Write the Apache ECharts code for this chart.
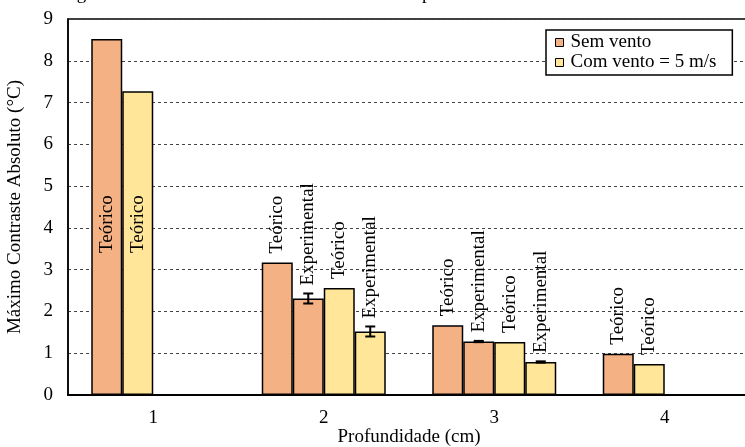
<!DOCTYPE html>
<html>
<head>
<meta charset="utf-8">
<script src="https://cdn.jsdelivr.net/npm/echarts@6/dist/echarts.min.js"></script>
<style>
  html, body { margin: 0; padding: 0; background: #fff; }
  #chart { width: 745px; height: 447px; }
</style>
</head>
<body>
<div id="chart"></div>
<script>
// Depth categories (cm)
const categories = ['1', '2', '3', '4'];

// Maximum absolute contrast (°C)
const semVentoTeorico = [8.52, 3.17, 1.67, 0.99];
const semVentoExperimental = [null, 2.31, 1.28, null];
const comVentoTeorico = [7.27, 2.56, 1.27, 0.74];
const comVentoExperimental = [null, 1.52, 0.79, null];

// Experimental uncertainty (± °C)
const erroSemVento = [null, 0.12, 0.015, null];
const erroComVento = [null, 0.12, 0.015, null];

const legendNames = ['Sem vento', 'Com vento = 5 m/s'];
const barLabels = ['Teórico', 'Experimental'];
const captionText = 'Figura 5.5 - Contraste máximo absoluto versus profundidade';

const ORANGE = '#F4B183';
const YELLOW = '#FFE699';
const FONT = '"Liberation Serif", "Times New Roman", serif';
const FS = 19;
const BAR_W = 31;

const groups = [
  { values: semVentoTeorico, errors: null, color: ORANGE, label: barLabels[0] },
  { values: semVentoExperimental, errors: erroSemVento, color: ORANGE, label: barLabels[1] },
  { values: comVentoTeorico, errors: null, color: YELLOW, label: barLabels[0] },
  { values: comVentoExperimental, errors: erroComVento, color: YELLOW, label: barLabels[1] }
];

// Bars are packed side by side inside each category (empty groups are skipped)
const slots = [0, 1, 2, 3].map(() => categories.map(() => '-'));
const errorPoints = [];
categories.forEach((cat, c) => {
  let s = 0;
  groups.forEach(g => {
    const v = g.values[c];
    if (v == null) return;
    const err = g.errors ? g.errors[c] : null;
    const inside = v > 6;
    slots[s][c] = {
      value: v,
      itemStyle: { color: g.color },
      label: inside
        ? { show: true, formatter: g.label, position: 'insideBottom', distance: 142 }
        : { show: true, formatter: g.label, position: 'top', distance: err != null && err > 0.05 ? 13 : 9 }
    };
    if (err != null) errorPoints.push([c, v, err, s]);
    s++;
  });
});

const labelStyle = {
  rotate: 90,
  align: 'left',
  verticalAlign: 'middle',
  fontFamily: FONT,
  fontSize: FS,
  color: '#000'
};

const barSeries = slots.map((data, i) => ({
  type: 'bar',
  name: 'slot' + i,
  data: data,
  barWidth: BAR_W,
  barGap: '0%',
  itemStyle: { borderColor: '#000', borderWidth: 1.5 },
  label: labelStyle,
  emphasis: { disabled: true },
  z: 3
}));

const errorSeries = {
  type: 'custom',
  name: 'erro',
  data: errorPoints,
  encode: { x: 0, y: 1 },
  z: 5,
  renderItem: function (params, api) {
    const c = api.value(0), v = api.value(1), e = api.value(2), s = api.value(3);
    const hi = api.coord([c, v + e]);
    const lo = api.coord([c, v - e]);
    const x = hi[0] + (s - 1.5) * BAR_W;
    const st = { stroke: '#000', lineWidth: 2 };
    return {
      type: 'group',
      children: [
        { type: 'line', shape: { x1: x, y1: hi[1], x2: x, y2: lo[1] }, style: st },
        { type: 'line', shape: { x1: x - 5, y1: hi[1], x2: x + 5, y2: hi[1] }, style: st },
        { type: 'line', shape: { x1: x - 5, y1: lo[1], x2: x + 5, y2: lo[1] }, style: st }
      ]
    };
  }
};

const legendSeries = legendNames.map((n, i) => ({
  type: 'line',
  name: n,
  data: [],
  itemStyle: { color: i === 0 ? ORANGE : YELLOW, borderColor: '#000', borderWidth: 1 }
}));

const chart = echarts.init(document.getElementById('chart'), null, { renderer: 'canvas' });
chart.setOption({
  animation: false,
  backgroundColor: '#fff',
  textStyle: { fontFamily: FONT },
  grid: {
    left: 68, top: 19, width: 682, height: 376,
    outerBoundsMode: 'none',
    containLabel: false,
    show: true, borderColor: '#000', borderWidth: 1.5, backgroundColor: 'transparent'
  },
  graphic: [{
    type: 'text',
    left: 61,
    top: -15,
    style: { text: captionText, font: FS + 'px ' + FONT, fill: '#000' },
    silent: true
  }],
  legend: {
    data: legendNames.map(n => ({ name: n, icon: 'rect' })),
    orient: 'vertical',
    left: 546,
    top: 30,
    padding: [3, 16, 3, 9],
    itemWidth: 8,
    itemHeight: 8,
    itemGap: 1,
    backgroundColor: '#fff',
    borderColor: '#000',
    borderWidth: 1.5,
    borderRadius: 0,
    textStyle: { fontFamily: FONT, fontSize: FS, color: '#000', lineHeight: 19, padding: [0, 0, 0, 2] },
    itemStyle: { borderColor: '#000', borderWidth: 1 },
    selectedMode: false,
    z: 10
  },
  xAxis: {
    type: 'category',
    data: categories,
    name: 'Profundidade (cm)',
    nameLocation: 'middle',
    nameGap: 33,
    nameMoveOverlap: false,
    nameTextStyle: { fontFamily: FONT, fontSize: FS, color: '#000', verticalAlign: 'top', lineHeight: 19 },
    axisLine: { lineStyle: { color: '#000', width: 2 } },
    axisTick: { show: false },
    axisLabel: { fontFamily: FONT, fontSize: FS, color: '#000', margin: 14 },
    z: 6
  },
  yAxis: {
    type: 'value',
    min: 0,
    max: 9,
    interval: 1,
    name: 'Máximo Contraste Absoluto (°C)',
    nameLocation: 'middle',
    nameGap: 43,
    nameMoveOverlap: false,
    nameTextStyle: { fontFamily: FONT, fontSize: FS, color: '#000' },
    axisLine: { show: true, lineStyle: { color: '#000', width: 1.5 } },
    axisTick: { show: false },
    axisLabel: { fontFamily: FONT, fontSize: FS, color: '#000', margin: 15 },
    splitLine: { show: true, lineStyle: { color: '#444', width: 1, type: [3, 3] } }
  },
  series: barSeries.concat([errorSeries]).concat(legendSeries)
});
</script>
</body>
</html>
